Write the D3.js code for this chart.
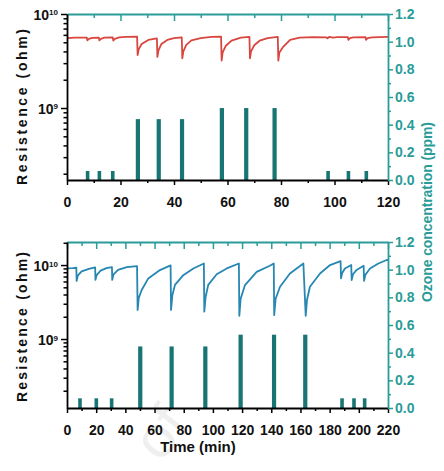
<!DOCTYPE html>
<html>
<head>
<meta charset="utf-8">
<script src="https://cdn.jsdelivr.net/npm/d3@7"></script>
<style>
  body { margin: 0; background: #fff; }
  svg { display: block; }
</style>
</head>
<body>
<svg id="chart" width="444" height="471"></svg>
<script>
// ---- tick labels ----
const topTimeTicks = [0, 20, 40, 60, 80, 100, 120];
const bottomTimeTicks = [0, 20, 40, 60, 80, 100, 120, 140, 160, 180, 200, 220];
const ozoneTicks = [0, 0.2, 0.4, 0.6, 0.8, 1.0, 1.2];

// ---- ozone pulses (time in min, concentration in ppm) ----
const topPulseTime = [7.7, 12.1, 17.1, 26.5, 34.3, 43.0, 57.9, 67.0, 77.6, 97.6, 105.2, 111.9];
const topPulsePpm  = [0.065, 0.065, 0.065, 0.44, 0.44, 0.44, 0.52, 0.52, 0.52, 0.065, 0.065, 0.065];
const bottomPulseTime = [8.9, 20.1, 30.6, 50.2, 71.7, 94.8, 119.0, 141.9, 163.3, 188.5, 196.7, 204.0];
const bottomPulsePpm  = [0.07, 0.07, 0.07, 0.445, 0.445, 0.445, 0.53, 0.53, 0.53, 0.07, 0.07, 0.07];

// ---- sensor resistance (time in min, ohm) ----
const topResistance = [
  [0, 5.55e9], [3, 5.6e9], [7.4, 5.62e9], [7.6, 5.25e9], [8.2, 5.45e9], [9.5, 5.58e9],
  [11.9, 5.62e9], [12.1, 5.25e9], [12.7, 5.45e9], [14, 5.6e9],
  [17.1, 5.65e9], [17.3, 5.2e9], [17.9, 5.45e9], [19.5, 5.65e9], [22, 5.7e9],
  [26.2, 5.75e9], [26.4, 3.66e9], [26.8, 4.2e9], [27.9, 4.8e9], [30.4, 5.3e9], [33.6, 5.5e9],
  [33.8, 3.5e9], [34.2, 4.1e9], [35.3, 4.8e9], [37.5, 5.3e9], [40, 5.55e9],
  [42.9, 5.65e9], [43.1, 3.38e9], [43.5, 4.0e9], [44.6, 4.7e9], [46.5, 5.25e9], [50, 5.55e9], [54, 5.7e9],
  [57.6, 5.75e9], [57.8, 3.2e9], [58.2, 3.9e9], [59.4, 4.6e9], [61.5, 5.2e9], [65, 5.6e9],
  [68.2, 5.7e9], [68.4, 3.38e9], [68.8, 4.0e9], [70, 4.65e9], [72, 5.2e9], [75, 5.55e9],
  [78.8, 5.7e9], [79.0, 3.2e9], [79.4, 3.9e9], [80.9, 4.5e9], [83.4, 5.3e9], [87, 5.6e9], [92, 5.68e9],
  [97, 5.65e9], [97.4, 5.5e9], [98, 5.72e9], [99.5, 5.6e9], [101, 5.68e9],
  [105, 5.68e9], [105.2, 5.3e9], [105.8, 5.55e9], [107, 5.65e9],
  [111.6, 5.68e9], [111.8, 5.3e9], [112.4, 5.55e9], [114, 5.65e9], [120, 5.7e9]
];
const bottomResistance = [
  [0, 9.0e9], [4, 9.1e9], [6.4, 9.2e9], [6.6, 6.1e9], [7.4, 7.2e9], [10, 8.2e9], [15, 8.9e9],
  [19.3, 9.3e9], [19.5, 6.3e9], [20.3, 7.3e9], [23, 8.4e9], [27, 9.1e9],
  [30.8, 9.4e9], [31.0, 6.3e9], [31.8, 7.4e9], [35, 8.6e9], [41, 9.4e9], [48.0, 9.7e9],
  [48.4, 2.47e9], [49.2, 3.6e9], [51.2, 4.6e9], [55.7, 6.6e9], [63.7, 8.56e9], [71.0, 9.9e9],
  [71.3, 2.47e9], [72.2, 3.9e9], [74, 5.4e9], [79.7, 7.3e9], [86.6, 9.0e9], [93.8, 1.05e10],
  [94.1, 2.34e9], [95.0, 3.7e9], [96.8, 5.4e9], [102.6, 7.5e9], [109.5, 9.0e9], [117.8, 1.05e10],
  [118.1, 2.06e9], [119.0, 3.5e9], [122, 5.37e9], [130, 8.1e9], [139, 9.8e9], [141.7, 1.05e10],
  [142.0, 2.1e9], [143.0, 3.5e9], [146, 5.1e9], [152.8, 7.7e9], [162, 1.05e10],
  [163.6, 2.06e9], [164.5, 3.4e9], [166.5, 5.1e9], [173.4, 7.7e9], [180.3, 1.0e10], [187.5, 1.13e10],
  [187.8, 6.6e9], [188.6, 7.8e9], [190.5, 9.0e9], [194.8, 1.0e10],
  [195.1, 6.27e9], [196.0, 7.5e9], [198.5, 8.6e9], [203.3, 9.8e9],
  [203.6, 6.1e9], [204.5, 7.4e9], [207.7, 9.0e9], [213.4, 1.05e10], [219.1, 1.17e10], [220, 1.17e10]
];

// ---- styling ----
const TEAL_AXIS = "#2a9c98";
const TEAL_BAR = "#177573";
const RED = "#d9463f";
const BLUE = "#2587b2";
const NUM_FONT = "'Liberation Sans Narrow', 'Arial Narrow', Arial, sans-serif";
const LABEL_FONT = "Arial, 'Liberation Sans', sans-serif";

const svg = d3.select("#chart");

function drawPanel(cfg) {
  const { x0, x1, y0, y1, timeMax, timeTicks, logDomain, pulseTime, pulsePpm, series, color } = cfg;
  const x = d3.scaleLinear().domain([0, timeMax]).range([x0, x1]);
  const yR = d3.scaleLog().domain(logDomain).range([y1, y0]);
  const yO = d3.scaleLinear().domain([0, 1.2]).range([y1, y0]);
  const g = svg.append("g");

  // ozone pulses
  g.append("g").selectAll("rect")
    .data(pulseTime.map((t, i) => ({ t, v: pulsePpm[i] })))
    .join("rect")
    .attr("x", d => x(d.t) - (d.v > 0.2 ? 2.1 : 1.8))
    .attr("width", d => d.v > 0.2 ? 4.2 : 3.6)
    .attr("y", d => yO(d.v))
    .attr("height", d => yO(0) - yO(d.v))
    .attr("fill", TEAL_BAR);

  // resistance trace
  const line = d3.line().x(d => x(d[0])).y(d => yR(d[1]));
  g.append("path").datum(series)
    .attr("d", line)
    .attr("fill", "none")
    .attr("stroke", color)
    .attr("stroke-width", 1.8)
    .attr("stroke-linejoin", "round");

  const minorTime = d3.range(10, timeMax, 20);

  // bottom axis (black, outward ticks)
  const bAx = g.append("g").attr("transform", `translate(0,${y1})`);
  bAx.call(d3.axisBottom(x).tickValues(timeTicks).tickSize(5).tickSizeOuter(0).tickPadding(12)
    .tickFormat(d3.format("d")));
  bAx.append("g").call(d3.axisBottom(x).tickValues(minorTime).tickSize(3).tickFormat(""))
    .select(".domain").remove();

  // top axis (teal, inward ticks)
  const tAx = g.append("g").attr("transform", `translate(0,${y0})`);
  tAx.call(d3.axisTop(x).tickValues(timeTicks).tickSize(-7).tickSizeOuter(0).tickFormat(""));
  tAx.append("g").call(d3.axisTop(x).tickValues(minorTime).tickSize(-4).tickFormat(""))
    .select(".domain").remove();
  tAx.selectAll("line,path").attr("stroke", TEAL_AXIS);

  // left log axis (black)
  const allLog = yR.ticks();
  const majors = allLog.filter(v => Math.abs(Math.log10(v) - Math.round(Math.log10(v))) < 1e-9);
  const minors = allLog.filter(v => !majors.includes(v));
  const lAx = g.append("g").attr("transform", `translate(${x0},0)`);
  lAx.call(d3.axisLeft(yR).tickValues(majors).tickSize(6).tickSizeOuter(0).tickFormat(""));
  lAx.append("g").call(d3.axisLeft(yR).tickValues(minors).tickSize(3.5).tickFormat(""))
    .select(".domain").remove();
  majors.forEach(v => {
    const t = lAx.append("text")
      .attr("x", -9).attr("y", yR(v))
      .attr("dy", "0.42em")
      .attr("text-anchor", "end")
      .attr("font-family", NUM_FONT).attr("font-weight", "bold").attr("font-size", 14)
      .attr("fill", "#111");
    t.append("tspan").text("10");
    t.append("tspan").attr("dy", "-0.55em").attr("font-size", 8).text(Math.round(Math.log10(v)));
  });

  // right ozone axis (teal)
  const rAx = g.append("g").attr("transform", `translate(${x1},0)`);
  rAx.call(d3.axisRight(yO).tickValues(ozoneTicks).tickSize(5).tickSizeOuter(0).tickPadding(2)
    .tickFormat(d3.format(".1f")));
  rAx.append("g").call(d3.axisRight(yO).tickValues(d3.range(0.1, 1.2, 0.2)).tickSize(3).tickFormat(""))
    .select(".domain").remove();
  rAx.selectAll("line,path").attr("stroke", TEAL_AXIS);
  rAx.selectAll("text").attr("fill", TEAL_AXIS);

  [bAx, tAx, lAx, rAx].forEach(a => {
    a.attr("font-family", NUM_FONT).attr("font-size", 14).attr("font-weight", "bold");
    a.selectAll(".domain").attr("stroke-width", 1.8);
    a.selectAll(".tick line").attr("stroke-width", 1.5);
  });
  bAx.selectAll("text").attr("fill", "#111");
}

// faint watermark behind the lower panel
svg.append("text")
  .attr("transform", "translate(160,432) rotate(-52)")
  .attr("text-anchor", "middle")
  .attr("dy", "0.35em")
  .attr("font-family", LABEL_FONT)
  .attr("font-size", 58)
  .attr("fill", "#efefef")
  .text("of");

drawPanel({
  x0: 67, x1: 388, y0: 14, y1: 180,
  timeMax: 120, timeTicks: topTimeTicks,
  logDomain: [1.715e8, 1e10],
  pulseTime: topPulseTime, pulsePpm: topPulsePpm,
  series: topResistance, color: RED
});

drawPanel({
  x0: 67, x1: 388, y0: 242, y1: 408,
  timeMax: 220, timeTicks: bottomTimeTicks,
  logDomain: [1.168e8, 2.05e10],
  pulseTime: bottomPulseTime, pulsePpm: bottomPulsePpm,
  series: bottomResistance, color: BLUE
});

// axis titles
function vLabel(text, cx, cy, len, color) {
  svg.append("text")
    .attr("transform", `translate(${cx},${cy}) rotate(-90)`)
    .attr("text-anchor", "middle")
    .attr("dy", "0.35em")
    .attr("font-family", LABEL_FONT)
    .attr("font-weight", "bold")
    .attr("font-size", 14)
    .attr("textLength", len)
    .attr("lengthAdjust", "spacing")
    .attr("fill", color)
    .text(text);
}
vLabel("Resistence (ohm)", 22, 107, 156, "#111");
vLabel("Resistence (ohm)", 22, 327, 150, "#111");
vLabel("Ozone concentration (ppm)", 427, 212, 180, TEAL_AXIS);

svg.append("text")
  .attr("x", 198).attr("y", 452)
  .attr("text-anchor", "middle")
  .attr("font-family", NUM_FONT)
  .attr("font-weight", "bold")
  .attr("font-size", 15)
  .attr("fill", "#111")
  .text("Time (min)");
</script>
</body>
</html>
